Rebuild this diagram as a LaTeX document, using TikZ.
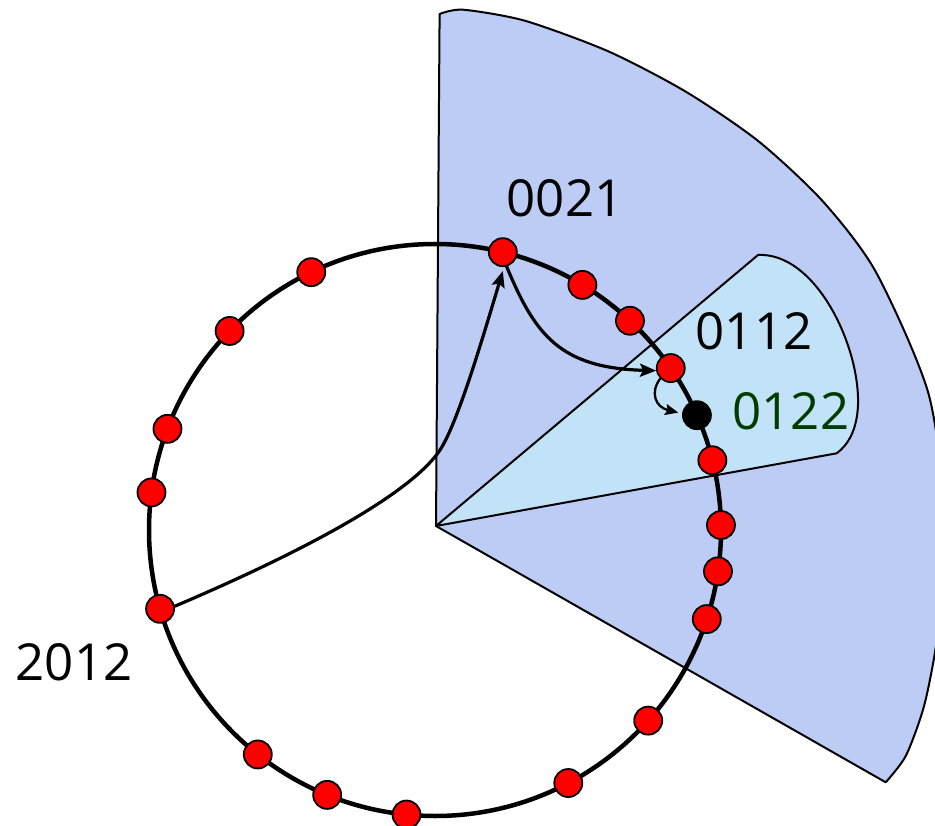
\documentclass[tikz,border=0pt]{standalone}
\usepackage{fontspec}
\setmainfont{Open Sans}
\usetikzlibrary{arrows.meta}
\definecolor{fanbig}{RGB}{189,204,244}
\definecolor{fansmall}{RGB}{194,227,247}
\definecolor{lblgreen}{RGB}{0,60,0}
\begin{document}
\begin{tikzpicture}[x=1pt,y=-1pt,
  dot/.style={circle, draw=black, line width=1.8pt, fill=red, minimum size=28pt, inner sep=0pt},
  blackdot/.style={dot, fill=black},
  ring/.style={line width=4.5pt},
  conn/.style={line width=3.2pt, -{Stealth[length=16pt,width=13pt,inset=3pt]}},
  thinconn/.style={line width=2.3pt, -{Stealth[length=13pt,width=11pt,inset=2pt]}},
  fanline/.style={line width=2pt, line join=round},
  lbl/.style={anchor=base, inner sep=0pt, font=\fontsize{51}{60}\selectfont}]
\useasboundingbox (0,0) rectangle (935,826);
\coordinate (V) at (436,526);
\coordinate (C) at (435,530);
% big fan
\draw[fanline, fill=fanbig] (V) -- plot[smooth, tension=0.45] coordinates {(439.6,14) (463.1,9.7) (525.1,20.8) (608.7,51.5) (686.5,92.1) (758.7,141.4) (822.9,201.4) (875.9,272) (928.6,394) (946,526) (937.8,632.7) (924.6,703.9) (906.1,755.3) (885.7,782.3)} -- cycle;
% small fan
\draw[fanline, fill=fansmall] (V) -- (758,255) .. controls (815,252) and (860,345) .. (858,405)
  .. controls (857,430) and (848,445) .. (836.7,453.3) -- cycle;
% ring
\draw[ring] (C) circle[radius=286];
% dot positions on the ring
\foreach \i/\a in {1/76.28, 2/58.98, 3/47.02, 4/34.48, 5/23.67, 6/14.11, 7/0.99, 8/-8.31, 9/-18.15,
  10/-41.80, 11/-62.22, 12/-95.72, 13/-112.15, 14/-128.29, 15/-164.0, 16/172.45, 17/159.29,
  18/135.90, 19/115.64}
  \path (C) ++(-\a:286) coordinate (p\i);
% dots
\foreach \i in {1,2,3,4,6,7,8,9,10,11,12,13,14,15,16,17,18,19}
  \node[dot] (d\i) at (p\i) {};
\node[blackdot] (d5) at (p5) {};
% connectors
\draw[conn] (d15.10) .. controls (300,553) and (410,495) .. (440,450)
  .. controls (458,423) and (485,330) .. ([yshift=-4pt]d1.south);
\draw[conn] (d1.-75) .. controls (535,335) and (560,368) .. (d4.190);
\draw[thinconn] (d4.225) .. controls (650,392) and (655,407) .. ([xshift=-4pt]d5.170);
% labels
\node[lbl] (l0021) at (565,217) {0021};
\node[lbl] (l0112) at (754,350) {0112};
\node[lbl, text=lblgreen] (l0122) at (790.8,429.3) {0122};
\node[lbl] (l2012) at (74,680) {2012};
\end{tikzpicture}
\end{document}
